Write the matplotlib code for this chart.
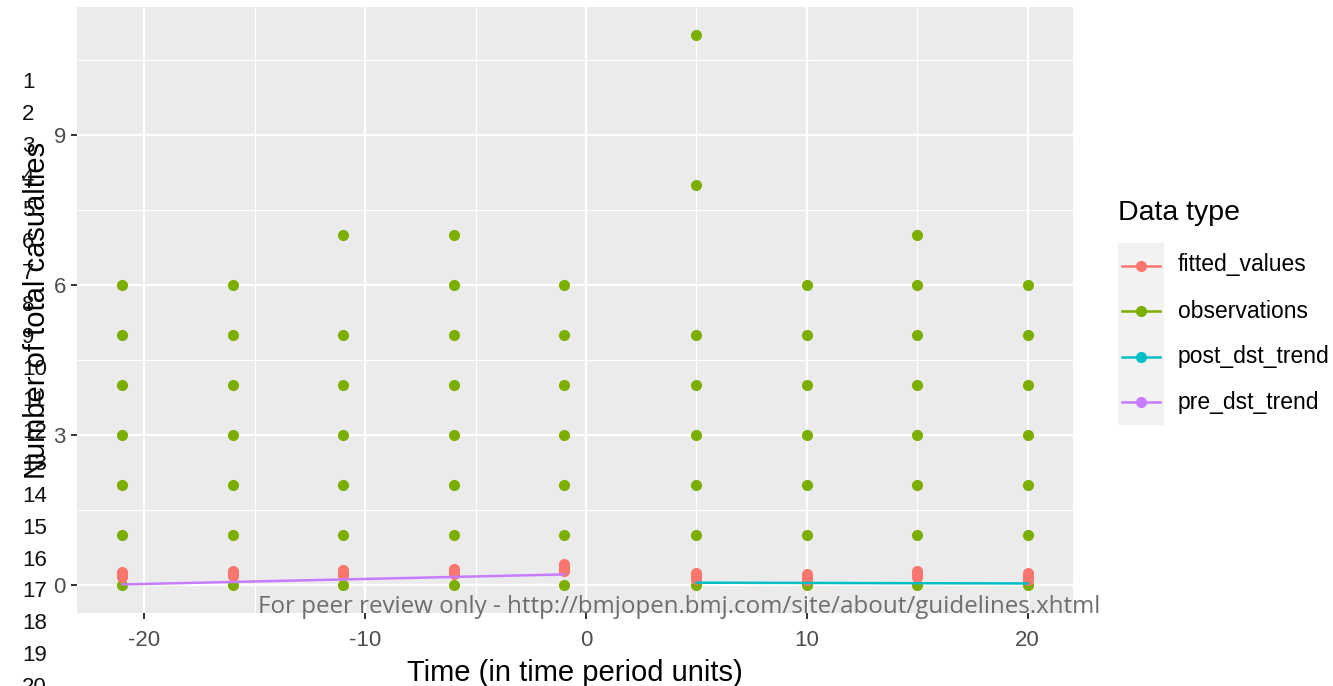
import matplotlib
matplotlib.use("Agg")
import matplotlib.pyplot as plt
import numpy as np

# ---------------- data ----------------
time_points = [-21, -16, -11, -6, -1, 5, 10, 15, 20]
# observed casualty counts (distinct values visible at each time point)
observations = {
    -21: [0, 1, 2, 3, 4, 5, 6],
    -16: [0, 1, 2, 3, 4, 5, 6],
    -11: [0, 1, 2, 3, 4, 5, 7],
    -6:  [0, 1, 2, 3, 4, 5, 6, 7],
    -1:  [0, 1, 2, 3, 4, 5, 6],
    5:   [0, 1, 2, 3, 4, 5, 8, 11],
    10:  [0, 1, 2, 3, 4, 5, 6],
    15:  [0, 1, 2, 3, 4, 5, 6, 7],
    20:  [0, 1, 2, 3, 4, 5, 6],
}
fitted_values = {
    -21: [0.17, 0.20, 0.23, 0.27],
    -16: [0.19, 0.22, 0.25, 0.29],
    -11: [0.20, 0.23, 0.26, 0.30],
    -6:  [0.22, 0.26, 0.29, 0.33],
    -1:  [0.28, 0.32, 0.37, 0.42],
    5:   [0.13, 0.17, 0.20, 0.24],
    10:  [0.10, 0.14, 0.18, 0.22],
    15:  [0.16, 0.20, 0.24, 0.29],
    20:  [0.11, 0.15, 0.19, 0.24],
}
pre_time = [-21, -16, -11, -6, -1]
pre_dst_trend = [0.02, 0.07, 0.12, 0.17, 0.22]
post_time = [5, 10, 15, 20]
post_dst_trend = [0.055, 0.05, 0.045, 0.04]

series_names = ["fitted_values", "observations", "post_dst_trend", "pre_dst_trend"]
series_colors = ["#F8766D", "#7CAE00", "#00BFC4", "#C77CFF"]

x_ticks = [-20, -10, 0, 10, 20]
y_ticks = [0, 3, 6, 9]
x_label = "Time (in time period units)"
y_label = "Number of total casualties"
legend_title = "Data type"
watermark = "For peer review only - http://bmjopen.bmj.com/site/about/guidelines.xhtml"
line_numbers = list(range(1, 21))

# ---------------- figure ----------------
W, H = 1333, 686
plt.rcParams['font.family'] = ['Liberation Sans', 'DejaVu Sans']
plt.rcParams['axes.unicode_minus'] = False
fig = plt.figure(figsize=(W / 100, H / 100), dpi=100)

def fx(px):
    return px / W

def fy(py):
    return 1 - py / H

ax = fig.add_axes([fx(77), fy(613), fx(1073 - 77), (613 - 7) / H])
ax.set_facecolor("#EBEBEB")
for s in ax.spines.values():
    s.set_visible(False)
ax.set_xlim(-23.05, 22.05)
ax.set_ylim(-0.55, 11.55)
ax.set_xticks(x_ticks)
ax.set_yticks(y_ticks)
ax.set_xticks([-15, -5, 5, 15], minor=True)
ax.set_yticks([1.5, 4.5, 7.5, 10.5], minor=True)
ax.grid(which="major", color="white", lw=1.6)
ax.grid(which="minor", color="white", lw=0.8)
ax.set_axisbelow(True)
ax.tick_params(which="major", length=4, width=1.4, color="#333333",
               labelsize=16, labelcolor="#4D4D4D")
ax.tick_params(axis="x", which="major", pad=8)
ax.tick_params(axis="y", which="major", pad=4)
ax.tick_params(which="minor", length=0)

# observations
obs_x = [t for t in time_points for _ in observations[t]]
obs_y = [v for t in time_points for v in observations[t]]
ax.scatter(obs_x, obs_y, s=64, color=series_colors[1], linewidths=0, zorder=3)
# fitted values
fit_x = [t for t in time_points for _ in fitted_values[t]]
fit_y = [v for t in time_points for v in fitted_values[t]]
ax.scatter(fit_x, fit_y, s=64, color=series_colors[0], linewidths=0, zorder=4)
# trend lines
ax.plot(post_time, post_dst_trend, color=series_colors[2], lw=1.8, zorder=5)
ax.plot(pre_time, pre_dst_trend, color=series_colors[3], lw=1.8, zorder=5)

ax.set_xlabel(x_label, fontsize=21, color="black", labelpad=6)
ax.set_ylabel(y_label, fontsize=21, color="black", labelpad=2)

# ---------------- legend ----------------
fig.text(fx(1118), fy(213), legend_title, fontsize=20.5, ha="left", va="center")
lax = fig.add_axes([fx(1118), fy(425), fx(1164 - 1118), (425 - 243) / H])
lax.set_facecolor("#F2F2F2")
lax.set_xlim(0, 1)
lax.set_ylim(len(series_names) - 0.5, -0.5)
lax.set_xticks([])
lax.set_yticks([])
for s in lax.spines.values():
    s.set_visible(False)
for i, (name, col) in enumerate(zip(series_names, series_colors)):
    lax.plot([0.09, 0.91], [i, i], color=col, lw=1.8)
    lax.plot([0.5], [i], marker="o", ms=8, color=col, mec="none")
    fig.text(fx(1178), fy(265 + 46 * i), name, fontsize=16.5, ha="left", va="center")

# ---------------- page artefacts ----------------
for n in line_numbers:
    fig.text(fx(22), fy(83 + 31.8 * (n - 1)), str(n), fontsize=16,
             ha="left", va="center", color="#111111")

wm = fig.text(fx(679), fy(607), watermark, fontsize=16, ha="center", va="center",
              color="#6E6E6E", family=["Open Sans", "DejaVu Sans"], zorder=10)
fig.canvas.draw()
ext = wm.get_window_extent()
wm.set_fontsize(16 * 842 / ext.width)

fig.savefig("out.png", dpi=100)
